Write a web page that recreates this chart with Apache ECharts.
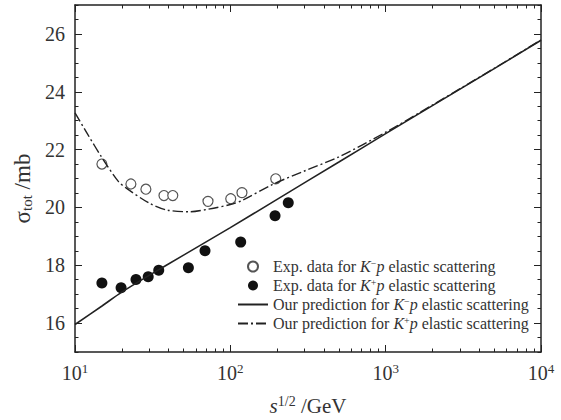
<!DOCTYPE html>
<html>
<head>
<meta charset="utf-8">
<style>
  html, body { margin: 0; padding: 0; background: #fff; }
  #chart { width: 561px; height: 420px; }
</style>
<script src="https://cdn.jsdelivr.net/npm/echarts@6/dist/echarts.min.js"></script>
</head>
<body>
<div id="chart"></div>
<script>
(function(){
  // experimental points, K-p (open) and K+p (filled)
  var kmX = [14.9, 22.9, 28.6, 37.4, 42.6, 71.8, 100.6, 118.8, 196];
  var kmY = [21.5, 20.81, 20.63, 20.41, 20.41, 20.21, 20.3, 20.51, 20.99];
  var kpX = [14.9, 19.8, 24.7, 29.6, 34.6, 53.7, 68.7, 116.6, 194, 236];
  var kpY = [17.39, 17.22, 17.51, 17.6, 17.83, 17.91, 18.5, 18.8, 19.71, 20.16];
  // prediction curves
  var solidX = [10, 15, 20, 30, 50, 100, 200, 500, 1000, 2000, 5000, 10000];
  var solidY = [15.95, 16.6, 17.07, 17.65, 18.35, 19.3, 20.28, 21.57, 22.55, 23.52, 24.8, 25.78];
  var dashX = [10, 12, 15, 19, 21.5, 30, 39, 55, 72, 100, 120, 188, 300, 500, 1000, 2000, 5000, 10000];
  var dashY = [23.27, 22.55, 21.7, 20.9, 20.66, 20.15, 19.91, 19.85, 19.94, 20.1, 20.25, 20.8, 21.26, 21.75, 22.6, 23.54, 24.81, 25.79];
  // ticks
  var xMajor = [10, 100, 1000, 10000];
  var xMinor = [20, 30, 40, 50, 60, 70, 80, 90, 200, 300, 400, 500, 600, 700, 800, 900, 2000, 3000, 4000, 5000, 6000, 7000, 8000, 9000];
  var yMajor = [16, 18, 20, 22, 24, 26];
  var yMinor = [15, 15.5, 16.5, 17, 17.5, 18.5, 19, 19.5, 20.5, 21, 21.5, 22.5, 23, 23.5, 24.5, 25, 25.5, 26.5, 27];
  var supers = {10: '1', 100: '2', 1000: '3', 10000: '4'};

  var ink = '#222';
  var txt = '#333';
  var font = 'Liberation Serif';

  function zip(xs, ys) { return xs.map(function(x, i){ return [x, ys[i]]; }); }

  var legendText = {
    km: 'Exp. data for {i|K}{sp|\u2212}{i|p} elastic scattering',
    kp: 'Exp. data for {i|K}{sp|+}{i|p} elastic scattering',
    predKm: 'Our prediction for {i|K}{sp|\u2212}{i|p} elastic scattering',
    predKp: 'Our prediction for {i|K}{sp|+}{i|p} elastic scattering'
  };

  function xAx(pos, ticks, len, show) {
    return {
      type: 'log', logBase: 10, min: 10, max: 10000, position: pos,
      axisLine: {show: show, lineStyle: {color: ink, width: 1.5}},
      axisTick: {show: true, inside: true, length: len, customValues: ticks, lineStyle: {color: ink, width: 1}},
      axisLabel: {show: false},
      splitLine: {show: false}, minorTick: {show: false}
    };
  }
  function yAx(pos, ticks, len, show) {
    return {
      type: 'value', min: 15, max: 27, interval: 1, position: pos,
      axisLine: {show: show, lineStyle: {color: ink, width: 1.5}},
      axisTick: {show: true, inside: true, length: len, customValues: ticks, lineStyle: {color: ink, width: 1}},
      axisLabel: {show: false},
      splitLine: {show: false}, minorTick: {show: false}
    };
  }

  var xMain = xAx('bottom', xMajor, 7, true);
  xMain.axisLabel = {
    show: true, customValues: xMajor, margin: 10,
    formatter: function(v){ return '{b|10}{s|' + supers[Math.round(v)] + '}'; },
    rich: {
      b: {fontFamily: font, fontSize: 20, color: txt},
      s: {fontFamily: font, fontSize: 13, color: txt, padding: [0, 0, 9, 0]}
    }
  };
  xMain.name = '{i|s}{s|1/2} /GeV';
  xMain.nameLocation = 'middle';
  xMain.nameGap = 42;
  xMain.nameTextStyle = {
    fontFamily: font, fontSize: 21, color: txt,
    rich: {
      i: {fontFamily: font, fontStyle: 'italic', fontSize: 21, color: txt},
      s: {fontFamily: font, fontSize: 14, color: txt, padding: [0, 0, 9, 0]}
    }
  };

  var yMain = yAx('left', yMajor, 7, true);
  yMain.axisLabel = {
    show: true, customValues: yMajor, margin: 10, fontFamily: font, fontSize: 20, color: txt
  };
  yMain.name = '\u03c3{s|tot} /mb';
  yMain.nameLocation = 'middle';
  yMain.nameGap = 40;
  yMain.nameTextStyle = {
    fontFamily: font, fontSize: 23, color: txt, padding: [0, 20, 0, 0],
    rich: {s: {fontFamily: font, fontSize: 15, color: txt, padding: [9, 0, 0, 0]}}
  };

  // line series get an invisible legend symbol so only the stroke shows
  var noSym = {color: 'rgba(0,0,0,0)', borderColor: 'rgba(0,0,0,0)', borderWidth: 0};

  var chart = echarts.init(document.getElementById('chart'), null, {renderer: 'svg'});
  chart.setOption({
    animation: false,
    backgroundColor: '#fff',
    grid: {left: 75, right: 20, top: 5, bottom: 68, outerBoundsMode: 'none'},
    legend: {
      orient: 'vertical', left: 232, top: 253, itemWidth: 30, itemHeight: 10, itemGap: 2,
      data: [
        {name: 'km'}, {name: 'kp'},
        {name: 'predKm', itemStyle: noSym}, {name: 'predKp', itemStyle: noSym}
      ],
      formatter: function(n){ return legendText[n]; },
      textStyle: {
        fontFamily: font, fontSize: 16, color: txt, lineHeight: 17,
        rich: {
          i: {fontFamily: font, fontStyle: 'italic', fontSize: 16, color: txt, lineHeight: 17},
          sp: {fontFamily: font, fontSize: 10, color: txt, lineHeight: 17, padding: [0, 0, 7, 0]}
        }
      }
    },
    xAxis: [
      xMain, xAx('bottom', xMinor, 3.5, false),
      xAx('top', xMajor, 7, true), xAx('top', xMinor, 3.5, false)
    ],
    yAxis: [
      yMain, yAx('left', yMinor, 3.5, false),
      yAx('right', yMajor, 7, true), yAx('right', yMinor, 3.5, false)
    ],
    series: [
      {name: 'km', type: 'scatter', data: zip(kmX, kmY), symbol: 'circle', symbolSize: 10,
       itemStyle: {color: '#fff', borderColor: '#555', borderWidth: 1.2, opacity: 1}},
      {name: 'kp', type: 'scatter', data: zip(kpX, kpY), symbol: 'circle', symbolSize: 11,
       itemStyle: {color: '#111', opacity: 1}},
      {name: 'predKm', type: 'line', data: zip(solidX, solidY), smooth: 0.3, symbol: 'none',
       lineStyle: {color: ink, width: 1.6}, itemStyle: {color: ink}},
      {name: 'predKp', type: 'line', data: zip(dashX, dashY), smooth: 0.3, symbol: 'none',
       lineStyle: {color: ink, width: 1.4, type: [10, 3, 2, 3]}, itemStyle: {color: ink}}
    ]
  });
})();
</script>
</body>
</html>
